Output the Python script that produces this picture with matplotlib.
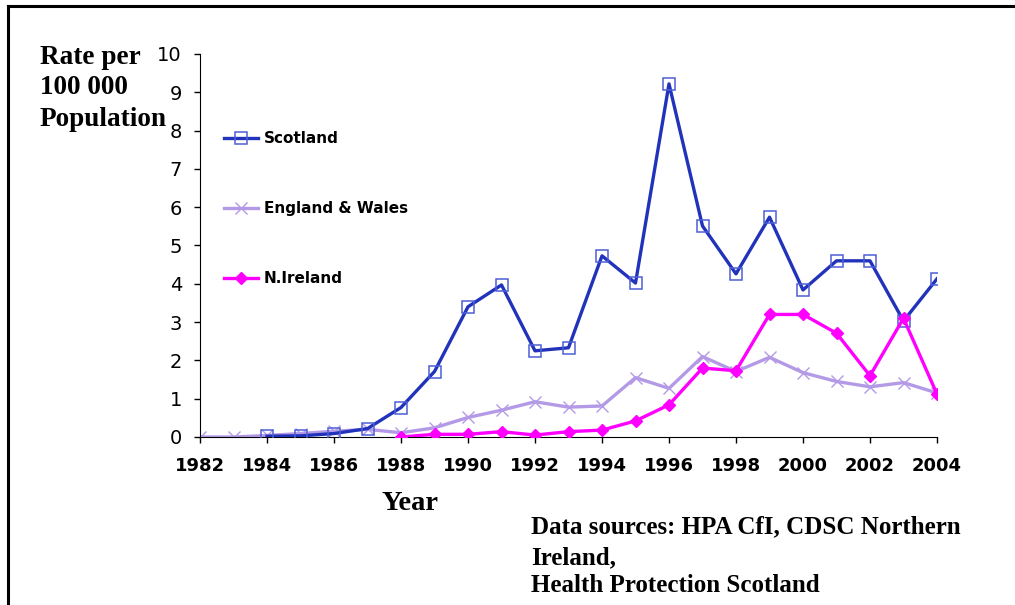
import matplotlib.pyplot as plt
from matplotlib.lines import Line2D

# data
years = list(range(1982, 2005))
scot_years = list(range(1984, 2005))
scotland = [0.02, 0.03, 0.09, 0.22, 0.77, 1.71, 3.40, 3.97, 2.25, 2.33,
            4.73, 4.02, 9.22, 5.51, 4.26, 5.74, 3.84, 4.60, 4.60, 3.03, 4.13]
england_wales = [0.0, 0.0, 0.04, 0.09, 0.15, 0.20, 0.11, 0.24, 0.51, 0.70,
                 0.92, 0.78, 0.81, 1.55, 1.27, 2.10, 1.71, 2.08, 1.68, 1.45,
                 1.31, 1.42, 1.15]
ni_years = list(range(1988, 2005))
n_ireland = [0.0, 0.07, 0.07, 0.14, 0.05, 0.14, 0.18, 0.42, 0.84, 1.80,
             1.73, 3.20, 3.20, 2.71, 1.60, 3.10, 1.12]
xticks = list(range(1982, 2005, 2))
yticks = list(range(0, 11))

fig = plt.figure(figsize=(10.15, 6.05), dpi=100)
ax = fig.add_axes([200/1015, 1-437/605, 737/1015, 383/605])

ax.plot(scot_years, scotland, color='#2233bb', lw=2.4, marker='s', ms=8,
        mfc='none', mec='#4d5fd6', mew=1.1, label='Scotland', zorder=3)
ax.plot(years, england_wales, color='#b49ae6', lw=2.4, marker='x', ms=9,
        mec='#b49ae6', mew=1.0, label='England & Wales', zorder=2)
ax.plot(ni_years, n_ireland, color='#ff00ff', lw=2.4, marker='D', ms=6,
        mfc='#ff00ff', mec='#ff00ff', label='N.Ireland', zorder=4)

ax.set_xlim(1982, 2004)
ax.set_ylim(0, 10)
ax.set_xticks(xticks)
ax.set_yticks(yticks)
ax.spines['top'].set_visible(False)
ax.spines['right'].set_visible(False)
ax.tick_params(direction='out', length=4.5, width=1)
ax.tick_params(axis='x', pad=10)
ax.tick_params(axis='y', pad=8.5)
for t in ax.get_xticklabels():
    t.set_fontsize(13)
    t.set_fontweight('bold')
for t in ax.get_yticklabels():
    t.set_fontsize(14)

leg = ax.legend(loc='upper left', bbox_to_anchor=(224/1015, 1-131/605),
                bbox_transform=fig.transFigure, frameon=False,
                prop={'size': 11, 'weight': 'bold'}, labelspacing=3.6,
                handlelength=2.2, handletextpad=0.4, borderpad=0,
                borderaxespad=0)

serif = 'Liberation Serif'
fig.text(40/1015, 1-57/605, 'Rate per', family=serif, weight='bold', size=19.6, va='center')
fig.text(40/1015, 1-88/605, '100 000', family=serif, weight='bold', size=19.6, va='center')
fig.text(40/1015, 1-119/605, 'Population', family=serif, weight='bold', size=19.6, va='center')
fig.text(410/1015, 1-503/605, 'Year', family=serif, weight='bold', size=20.5,
         va='center', ha='center')
fig.text(531/1015, 1-527/605, 'Data sources: HPA CfI, CDSC Northern', family=serif,
         weight='bold', size=18, va='center')
fig.text(531/1015, 1-558/605, 'Ireland,', family=serif, weight='bold', size=18, va='center')
fig.text(531/1015, 1-586/605, 'Health Protection Scotland', family=serif,
         weight='bold', size=18, va='center')

# frame lines round the slide
fig.add_artist(Line2D([8/1015, 8/1015], [0, 1-6/605], color='black', lw=2.2,
                      transform=fig.transFigure))
fig.add_artist(Line2D([8/1015, 1], [1-6/605, 1-6/605], color='black', lw=2.2,
                      transform=fig.transFigure))

fig.savefig('out.png', dpi=100)
